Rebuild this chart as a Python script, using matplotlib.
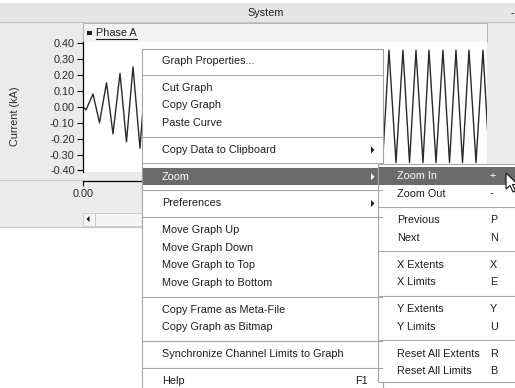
import matplotlib
matplotlib.use('Agg')
import matplotlib.pyplot as plt
from matplotlib.patches import Rectangle, Polygon

plt.rcParams['font.family'] = ['Liberation Sans', 'DejaVu Sans']
plt.rcParams['axes.unicode_minus'] = False

t_start = [0.0, 0.0037, 0.0124, 0.0204, 0.0291, 0.0371, 0.0458, 0.0538, 0.0619, 0.0705, 0.0786]
i_start = [0.00, -0.02, 0.08, -0.10, 0.15, -0.17, 0.21, -0.22, 0.25, -0.26, 0.28]
t_end = [0.3707, 0.3787, 0.3874, 0.3960, 0.4041, 0.4121, 0.4208, 0.4282, 0.4369,
         0.4455, 0.4536, 0.4616, 0.4697, 0.4777, 0.4864, 0.4950, 0.5030]
i_end = [-0.35, 0.355, -0.35, 0.355, -0.35, 0.355, -0.35, 0.355, -0.35,
         0.355, -0.35, 0.355, -0.35, 0.355, -0.35, 0.355, -0.35]

y_ticks = [0.40, 0.30, 0.20, 0.10, 0.00, -0.10, -0.20, -0.30, -0.40]
y_tick_labels = ['%.2f' % v for v in y_ticks]
x_ticks = [0.0]
x_tick_labels = ['0.00']

# context menu: (label, shortcut, has submenu); None is a separator
menu_items = [("Graph Properties...", "", False), None,
              ("Cut Graph", "", False), ("Copy Graph", "", False), ("Paste Curve", "", False), None,
              ("Copy Data to Clipboard", "", True), None,
              ("Zoom", "", True), None,
              ("Preferences", "", True), None,
              ("Move Graph Up", "", False), ("Move Graph Down", "", False),
              ("Move Graph to Top", "", False), ("Move Graph to Bottom", "", False), None,
              ("Copy Frame as Meta-File", "", False), ("Copy Graph as Bitmap", "", False), None,
              ("Synchronize Channel Limits to Graph", "", False), None,
              ("Help", "F1", False)]
zoom_items = [("Zoom In", "+", False), ("Zoom Out", "-", False), None,
              ("Previous", "P", False), ("Next", "N", False), None,
              ("X Extents", "X", False), ("X Limits", "E", False), None,
              ("Y Extents", "Y", False), ("Y Limits", "U", False), None,
              ("Reset All Extents", "R", False), ("Reset All Limits", "B", False)]

W, H = 515, 388
ITEM_H, SEP_H = 17.6, 9.2
TXT = '#1e1e1e'
FS = 7.8


def box(x0, y0, x1, y1):
    return [x0 / W, 1 - y1 / H, (x1 - x0) / W, (y1 - y0) / H]


fig = plt.figure(figsize=(W / 100, H / 100), dpi=100, facecolor='white')

# window background
bg = fig.add_axes([0, 0, 1, 1], zorder=0)
bg.set_xlim(0, W)
bg.set_ylim(H, 0)
bg.axis('off')
bg.add_patch(Rectangle((0, 3), W, 19, facecolor='#e6e6e6', edgecolor='none'))
bg.plot([0, W], [22, 22], color='#c4c4c4', lw=0.8)
bg.text(266, 13, "System", ha='center', va='center', fontsize=FS, color=TXT)
bg.text(511, 13, "-", ha='left', va='center', fontsize=FS, color=TXT)
bg.add_patch(Rectangle((0, 22.5), W, 204, facecolor='#ebebeb', edgecolor='none'))
bg.add_patch(Rectangle((83, 22.5), 404, 19.5, facecolor='#f3f3f3', edgecolor='#b4b4b4', lw=0.7))
bg.add_patch(Rectangle((87, 31), 4.5, 4, facecolor='#222222', edgecolor='none'))
bg.text(96, 33, "Phase A", ha='left', va='center', fontsize=FS, color=TXT)
bg.plot([96, 137], [38.5, 38.5], color=TXT, lw=0.8)
bg.plot([0, 83], [179.5, 179.5], color='#c8c8c8', lw=0.8)
bg.add_patch(Rectangle((83, 213), 300, 12.5, facecolor='#f5f5f5', edgecolor='#d0d0d0', lw=0.7))
bg.plot([95, 95], [213, 225.5], color='#c8c8c8', lw=0.7)
bg.add_patch(Polygon([[86.5, 219], [89.5, 216], [89.5, 222]], closed=True, facecolor='#111111'))
bg.plot([0, W], [226.5, 226.5], color='#c8c8c8', lw=0.8)
bg.add_patch(Rectangle((0, 227), W, H - 227, facecolor='white', edgecolor='none'))

# graph area
ax = fig.add_axes(box(83, 42, 487, 171.5), zorder=1)
ax.set_facecolor('white')
ax.plot(t_start, i_start, color='#2a2a2a', lw=1.0)
ax.plot(t_end, i_end, color='#2a2a2a', lw=1.0)
ax.set_xlim(0, 0.5)
ax.set_ylim(-0.4063, 0.4063)
ax.set_yticks(y_ticks)
ax.set_yticklabels(y_tick_labels)
ax.set_xticks([])
for s in ['top', 'right', 'bottom']:
    ax.spines[s].set_visible(False)
ax.spines['left'].set_linewidth(0.9)
ax.tick_params(axis='y', direction='out', length=4, width=0.8, pad=2,
               labelsize=FS, labelcolor='#2a2a2a')
ax.set_ylabel("Current (kA)", fontsize=FS, color='#2a2a2a')
ax.yaxis.set_label_coords((20 - 83) / 404, (171.5 - 116) / 129.5)

# time axis sits below the graph
axx = fig.add_axes(box(83, 181, 487, 181.01), zorder=1)
axx.set_xlim(0, 0.5)
axx.set_xticks(x_ticks)
axx.set_xticklabels(x_tick_labels)
axx.set_yticks([])
axx.patch.set_visible(False)
for s in ['top', 'right', 'left']:
    axx.spines[s].set_visible(False)
axx.spines['bottom'].set_linewidth(0.9)
axx.tick_params(axis='x', direction='out', length=3.5, width=0.8, pad=2,
                labelsize=FS, labelcolor='#2a2a2a')

# context menus on top
ov = fig.add_axes([0, 0, 1, 1], zorder=3)
ov.set_xlim(0, W)
ov.set_ylim(H, 0)
ov.axis('off')


def draw_menu(items, x0, x1, top, bottom, text_x, key_x, hi_x1, highlight):
    ov.add_patch(Rectangle((x0, top), x1 - x0, bottom - top, facecolor='white',
                           edgecolor='#a4a4a4', lw=0.8))
    y = top + 3
    for it in items:
        if it is None:
            ov.plot([x0 + 1, x1 - 1], [y + 4.6, y + 4.6], color='#a8a8a8', lw=0.8)
            y += SEP_H
            continue
        label, key, sub = it
        c = y + ITEM_H / 2
        col = TXT
        if label == highlight:
            ov.add_patch(Rectangle((x0 + 1, y), hi_x1 - x0 - 1, ITEM_H,
                                   facecolor='#6b6b6b', edgecolor='none'))
            col = 'white'
        ov.text(text_x, c, label, ha='left', va='center', fontsize=FS, color=col)
        if key:
            ov.text(key_x, c, key, ha='left', va='center', fontsize=FS, color=col)
        if sub:
            ov.add_patch(Polygon([[371, c - 3.5], [374.5, c], [371, c + 3.5]], closed=True,
                                 facecolor=col, edgecolor='none'))
        y += ITEM_H


draw_menu(menu_items, 142, 383, 49.3, 392, 162, 355, 378, "Zoom")
draw_menu(zoom_items, 378, 518, 164.2, 382, 397, 490, 518, "Zoom In")

# mouse pointer
cur = [[506, 173], [506, 189], [510, 185.5], [513, 192], [515.5, 191], [512.5, 184.5], [518, 184.5]]
ov.add_patch(Polygon(cur, closed=True, facecolor='white', edgecolor='#111111', lw=0.8))

fig.savefig('out.png', dpi=100)
